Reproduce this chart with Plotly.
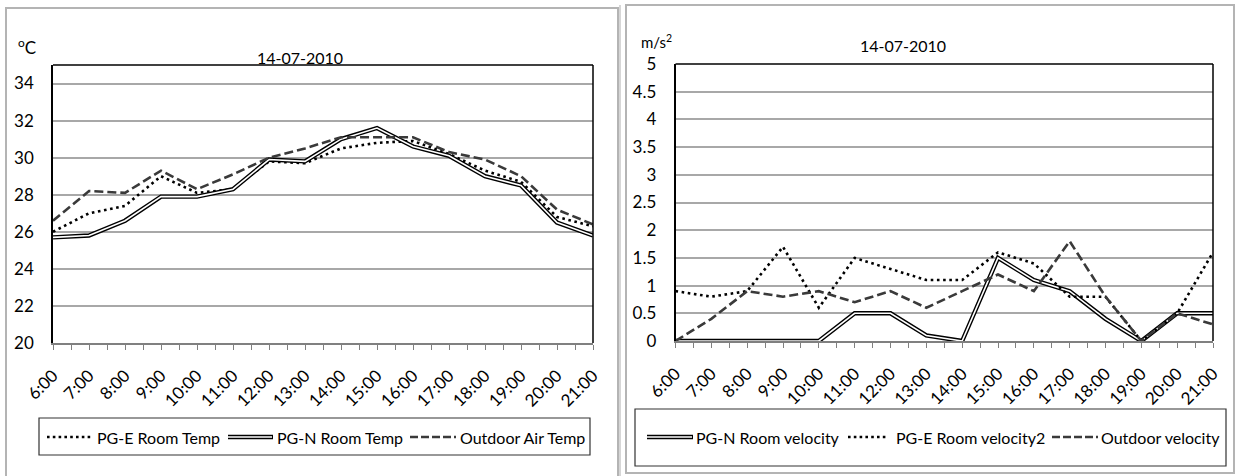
import plotly.graph_objects as go

hours = ["6:00", "7:00", "8:00", "9:00", "10:00", "11:00", "12:00", "13:00",
         "14:00", "15:00", "16:00", "17:00", "18:00", "19:00", "20:00", "21:00"]

# Left chart: temperatures (°C)
pge_temp = [26.0, 27.0, 27.4, 29.0, 28.1, 28.3, 29.8, 29.7, 30.5, 30.8, 30.9, 30.2, 29.3, 28.7, 26.8, 26.3]
pgn_temp = [25.7, 25.8, 26.6, 27.9, 27.9, 28.3, 29.9, 29.8, 31.0, 31.6, 30.6, 30.1, 29.0, 28.5, 26.5, 25.8]
outdoor_temp = [26.6, 28.2, 28.1, 29.3, 28.3, 29.1, 30.0, 30.5, 31.1, 31.1, 31.1, 30.3, 29.9, 29.0, 27.2, 26.4]

# Right chart: velocities
pgn_vel = [0, 0, 0, 0, 0, 0.5, 0.5, 0.1, 0, 1.5, 1.1, 0.9, 0.4, 0, 0.5, 0.5]
pge_vel = [0.9, 0.8, 0.9, 1.7, 0.6, 1.5, 1.3, 1.1, 1.1, 1.6, 1.4, 0.8, 0.8, 0, 0.5, 1.6]
outdoor_vel = [0, 0.4, 0.9, 0.8, 0.9, 0.7, 0.9, 0.6, 0.9, 1.2, 0.9, 1.8, 0.8, 0, 0.5, 0.3]

temp_ticks = [20, 22, 24, 26, 28, 30, 32, 34]
vel_ticks = [0, 0.5, 1, 1.5, 2, 2.5, 3, 3.5, 4, 4.5, 5]

title_text = "14-07-2010"
temp_names = ["PG-E Room Temp", "PG-N Room Temp", "Outdoor Air Temp"]
vel_names = ["PG-N Room velocity", "PG-E Room velocity2", "Outdoor velocity"]

W, H = 1237, 476
FONT = "Lato, Carlito, Calibri, sans-serif"
FS = 16
TFS = 17

def px(x):
    return x / W

def py(y):
    return 1 - y / H

idx = list(range(len(hours)))

DOT = dict(color="black", width=2.6, dash="2.6px,3.6px")
DASH = dict(color="#3a3a3a", width=2.6, dash="9px,4px")

fig = go.Figure()

def add_dotted(y, xa, ya, name):
    fig.add_trace(go.Scatter(x=idx, y=y, mode="lines", line=DOT, name=name,
                             xaxis=xa, yaxis=ya, showlegend=False))

def add_dashed(y, xa, ya, name):
    fig.add_trace(go.Scatter(x=idx, y=y, mode="lines", line=DASH, name=name,
                             xaxis=xa, yaxis=ya, showlegend=False))

def add_double(y, xa, ya, name):
    fig.add_trace(go.Scatter(x=idx, y=y, mode="lines", line=dict(color="black", width=4.4),
                             name=name, xaxis=xa, yaxis=ya, showlegend=False))
    fig.add_trace(go.Scatter(x=idx, y=y, mode="lines", line=dict(color="white", width=1.6),
                             name=name, xaxis=xa, yaxis=ya, showlegend=False, hoverinfo="skip"))

# left chart
add_dotted(pge_temp, "x", "y", temp_names[0])
add_double(pgn_temp, "x", "y", temp_names[1])
add_dashed(outdoor_temp, "x", "y", temp_names[2])
# right chart
add_double(pgn_vel, "x2", "y2", vel_names[0])
add_dotted(pge_vel, "x2", "y2", vel_names[1])
add_dashed(outdoor_vel, "x2", "y2", vel_names[2])

tickfont = dict(family=FONT, size=TFS, color="black")

def xaxis_cfg(domain, anchor):
    return dict(domain=domain, anchor=anchor, range=[0, len(hours) - 1],
                tickvals=idx, ticktext=hours, tickangle=-45, tickfont=tickfont,
                ticks="outside", ticklen=5, tickcolor="#808080", tickwidth=1.3,
                minor=dict(dtick=0.5, tick0=0, ticks="outside", ticklen=5,
                           tickcolor="#808080", tickwidth=1.3, showgrid=False),
                showgrid=False, zeroline=False, showline=True, linecolor="#808080",
                linewidth=2, ticklabelstandoff=9, automargin=False)

def yaxis_cfg(domain, anchor, rng, ticks):
    return dict(domain=domain, anchor=anchor, range=rng, tickvals=ticks,
                tickfont=tickfont, showgrid=True, gridcolor="#a8a8a8", gridwidth=1.5,
                zeroline=False, showline=True, linecolor="black", linewidth=1.5,
                ticks="", ticklabelstandoff=14, automargin=False)

fig.update_layout(
    width=W, height=H, margin=dict(l=0, r=0, t=0, b=0, autoexpand=False),
    paper_bgcolor="white", plot_bgcolor="white", showlegend=False,
    xaxis=xaxis_cfg([px(53), px(593)], "y"),
    yaxis=yaxis_cfg([py(343), py(65)], "x", [20, 35], temp_ticks),
    xaxis2=xaxis_cfg([px(675.5), px(1213)], "y2"),
    yaxis2=yaxis_cfg([py(341), py(64)], "x2", [0, 5], vel_ticks),
)

shapes = []
# top/right frame lines of plot areas
for xr, yr in (("x domain", "y domain"), ("x2 domain", "y2 domain")):
    shapes.append(dict(type="line", xref=xr, yref=yr, x0=0, x1=1, y0=1, y1=1,
                       line=dict(color="black", width=1.5)))
    shapes.append(dict(type="line", xref=xr, yref=yr, x0=1, x1=1, y0=0, y1=1,
                       line=dict(color="black", width=1.5)))

# panel borders
shapes.append(dict(type="rect", xref="paper", yref="paper", x0=px(6), x1=px(618),
                   y0=py(482), y1=py(8), line=dict(color="#b4b4b4", width=2)))
shapes.append(dict(type="rect", xref="paper", yref="paper", x0=px(626), x1=px(1234),
                   y0=py(473), y1=py(5), line=dict(color="#b4b4b4", width=2)))
shapes.append(dict(type="line", xref="paper", yref="paper", x0=px(620), x1=px(620),
                   y0=py(480), y1=py(5), line=dict(color="#c8c8c8", width=1.5)))

# legend boxes
shapes.append(dict(type="rect", xref="paper", yref="paper", x0=px(39), x1=px(590),
                   y0=py(455), y1=py(418), line=dict(color="#333333", width=1.2)))
shapes.append(dict(type="rect", xref="paper", yref="paper", x0=px(635), x1=px(1226),
                   y0=py(466), y1=py(409), line=dict(color="#333333", width=1.2)))

annotations = []

def legend_sample(kind, x0, x1, yc):
    if kind == "dot":
        shapes.append(dict(type="line", xref="paper", yref="paper", x0=px(x0), x1=px(x1),
                           y0=py(yc), y1=py(yc), line=dict(color="black", width=2.6, dash="2.6px,3.2px")))
    elif kind == "dash":
        shapes.append(dict(type="line", xref="paper", yref="paper", x0=px(x0), x1=px(x1),
                           y0=py(yc), y1=py(yc), line=dict(color="#3a3a3a", width=2.6, dash="8px,3px")))
    else:
        shapes.append(dict(type="line", xref="paper", yref="paper", x0=px(x0), x1=px(x1),
                           y0=py(yc), y1=py(yc), line=dict(color="black", width=4.4)))
        shapes.append(dict(type="line", xref="paper", yref="paper", x0=px(x0), x1=px(x1 - 1),
                           y0=py(yc), y1=py(yc), line=dict(color="white", width=1.6)))

def legend_text(text, x, yc):
    annotations.append(dict(text=text, xref="paper", yref="paper", x=px(x), y=py(yc),
                            xanchor="left", yanchor="middle", showarrow=False,
                            font=dict(family=FONT, size=FS, color="black")))

# left legend
yl = 437
legend_sample("dot", 47, 92, yl); legend_text(temp_names[0], 95, yl)
legend_sample("double", 228, 273, yl); legend_text(temp_names[1], 275, yl)
legend_sample("dash", 410, 456, yl); legend_text(temp_names[2], 458, yl)
# right legend
yr_ = 437
legend_sample("double", 647, 693, yr_); legend_text(vel_names[0], 694, yr_)
legend_sample("dot", 848, 887, yr_); legend_text(vel_names[1], 894, yr_)
legend_sample("dash", 1052, 1098, yr_); legend_text(vel_names[2], 1099, yr_)

# titles and unit labels
annotations.append(dict(text=title_text, xref="paper", yref="paper", x=px(300), y=py(57),
                        xanchor="center", yanchor="middle", showarrow=False,
                        font=dict(family=FONT, size=FS, color="black")))
annotations.append(dict(text=title_text, xref="paper", yref="paper", x=px(903), y=py(45),
                        xanchor="center", yanchor="middle", showarrow=False,
                        font=dict(family=FONT, size=FS, color="black")))
annotations.append(dict(text="<sup>o</sup>C", xref="paper", yref="paper", x=px(16), y=py(47),
                        xanchor="left", yanchor="middle", showarrow=False,
                        font=dict(family=FONT, size=TFS, color="black")))
annotations.append(dict(text="m/s<sup>2</sup>", xref="paper", yref="paper", x=px(639), y=py(41),
                        xanchor="left", yanchor="middle", showarrow=False,
                        font=dict(family=FONT, size=15, color="black")))

fig.update_layout(shapes=shapes, annotations=annotations)

fig.write_html("out.html", config={"displayModeBar": False},
               post_script="document.body.style.margin='0px';document.body.style.overflow='hidden';")
